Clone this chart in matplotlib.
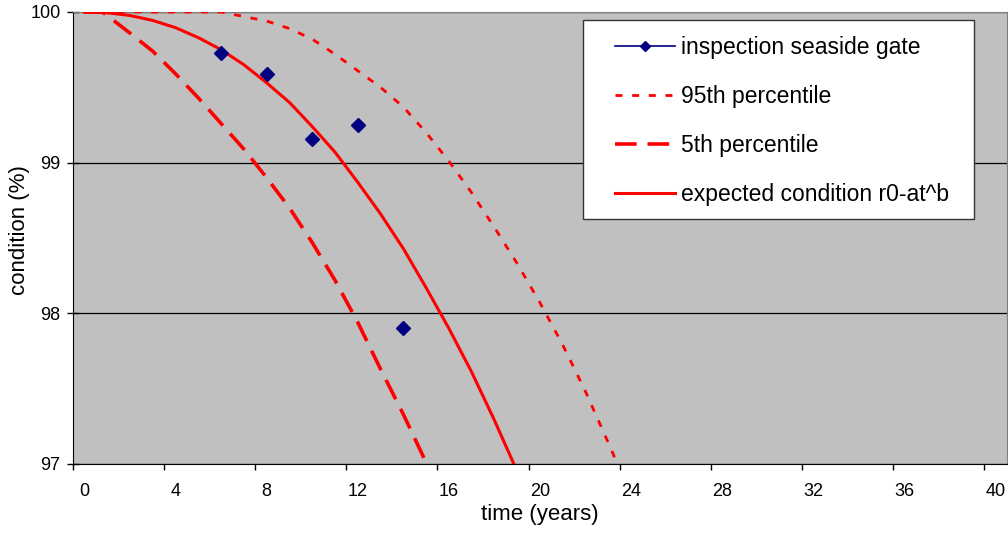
import numpy as np
import matplotlib
matplotlib.use("Agg")
import matplotlib.pyplot as plt
from matplotlib.patches import Rectangle

# ============================================================
# DATA
# ============================================================

# expected condition r0-at^b
exp_years = list(range(0, 21))
exp_cond = [100.0, 99.995, 99.977, 99.944, 99.896, 99.83, 99.75, 99.65, 99.53,
            99.40, 99.24, 99.07, 98.87, 98.66, 98.43, 98.17, 97.90, 97.61,
            97.29, 96.95, 96.60]

# 95th percentile
p95_years = list(range(0, 25))
p95_cond = [100.0, 100.0, 100.0, 100.0, 100.0, 100.0, 100.0, 99.97, 99.94,
            99.89, 99.82, 99.72, 99.61, 99.50, 99.37, 99.20, 99.01, 98.80,
            98.57, 98.33, 98.07, 97.79, 97.48, 97.14, 96.79]

# 5th percentile
p5_years = [0, 0.8, 2, 3, 4, 5, 6, 7, 8, 9, 10, 11, 12, 13, 14, 15, 16]
p5_cond = [100.0, 100.0, 99.86, 99.74, 99.59, 99.43, 99.26, 99.09, 98.90,
           98.70, 98.47, 98.22, 97.94, 97.63, 97.33, 97.01, 96.68]

# inspections (blank cells between them, like the spreadsheet)
insp_years = [6, 7, 8, 9, 10, 11, 12, 13, 14]
insp_cond = [99.73, np.nan, 99.59, np.nan, 99.16, np.nan, 99.25, np.nan, 97.90]

x_labels = list(range(0, 41, 4))
y_ticks = [97, 98, 99, 100]

# ============================================================
# FIGURE
# ============================================================

plt.rcParams["font.family"] = ["Liberation Sans", "DejaVu Sans"]

fig = plt.figure(figsize=(10.08, 5.33), dpi=100)
ax = fig.add_axes([73 / 1008, 1 - 464 / 533, 934 / 1008, 452 / 533])
ax.set_facecolor("#C0C0C0")

RED = "#FF0000"
NAVY = "#000080"

ax.plot(insp_years, insp_cond, color=NAVY, lw=1.2, marker="D", ms=7,
        label="inspection seaside gate", zorder=6)
ax.plot(p95_years, p95_cond, color=RED, lw=2.0, dashes=(2.5, 3.5),
        label="95th percentile", zorder=4)
ax.plot(p5_years, p5_cond, color=RED, lw=2.6, dashes=(6.0, 3.0),
        label="5th percentile", zorder=4)
ax.plot(exp_years, exp_cond, color=RED, lw=2.2,
        label="expected condition r0-at^b", zorder=5)

# ============================================================
# AXES
# ============================================================

ax.set_xlim(-0.5, 40.5)
ax.set_ylim(97, 100)

# category axis: tick marks between slots, labels at slot centres
ax.set_xticks([v - 0.5 for v in x_labels])
ax.set_xticklabels([])
ax.set_xticks(x_labels, minor=True)
ax.set_xticklabels([str(v) for v in x_labels], minor=True)
ax.tick_params(axis="x", which="major", direction="out", length=4, width=1)
ax.tick_params(axis="x", which="minor", length=0, pad=14, labelsize=13)

ax.set_yticks(y_ticks)
ax.set_yticklabels([str(v) for v in y_ticks])
ax.tick_params(axis="y", direction="inout", length=8, width=1, pad=5,
               labelsize=13)

ax.yaxis.grid(True, color="black", lw=0.9)
ax.set_axisbelow(True)

ax.spines["top"].set_color("#808080")
ax.spines["right"].set_color("#808080")
ax.spines["left"].set_color("black")
ax.spines["bottom"].set_color("black")

ax.set_xlabel("time (years)", fontsize=16)
ax.set_ylabel("condition (%)", fontsize=16)
ax.xaxis.set_label_coords(0.5, (464 - 504) / 452)
ax.yaxis.set_label_coords((30 - 73) / 934, (464 - 230) / 452)

# ============================================================
# LEGEND
# ============================================================

frame = Rectangle(((583 - 73) / 934, (464 - 219) / 452), 391 / 934, 199 / 452,
                  transform=ax.transAxes, facecolor="white", edgecolor="#333333",
                  lw=1.0, zorder=7, clip_on=False)
ax.add_patch(frame)

leg = ax.legend(loc="upper left", bbox_to_anchor=((615 - 73) / 934, (464 - 36) / 452),
                frameon=False, fontsize=16.5, borderpad=0, borderaxespad=0,
                handlelength=2.6, handletextpad=0.3, labelspacing=1.14,
                markerscale=0.8)
leg.set_zorder(8)

fig.savefig("out.png", dpi=100)
